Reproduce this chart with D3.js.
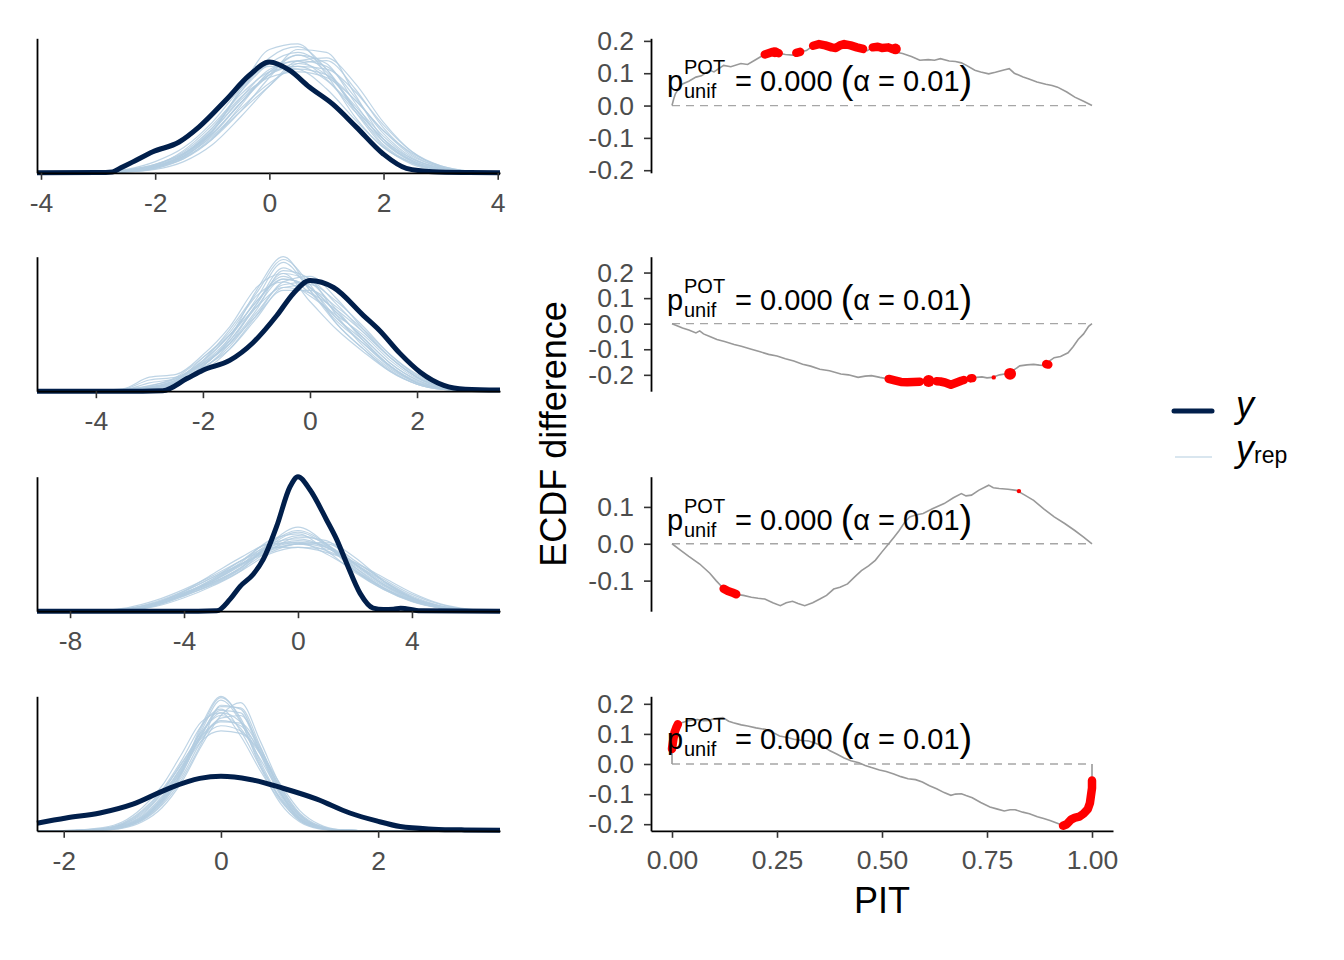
<!DOCTYPE html>
<html>
<head>
<meta charset="utf-8">
<script src="https://cdn.jsdelivr.net/npm/d3@7"></script>
<style>
  body { margin: 0; background: #fff; }
  text { font-family: "Liberation Sans", Arial, sans-serif; }
</style>
</head>
<body>
<svg id="chart" width="1344" height="960"></svg>
<script>
// ---- density overlay data (x grid + density values) ----
var yX1 = [-4.07, -3, -2.75, -2.6, -2.39, -2.04, -1.58, -1.23, -0.76, -0.35, 0, 0.35, 0.7, 1.11, 1.52, 1.99, 2.4, 2.86, 3.5, 4.04];
var yD1 = [0, 0.001, 0.003, 0.018, 0.039, 0.075, 0.11, 0.164, 0.26, 0.348, 0.395, 0.366, 0.306, 0.245, 0.164, 0.068, 0.016, 0.004, 0.001, 0];
var repX1 = [-4.07, -3, -2.5, -2, -1.5, -1, -0.5, 0, 0.5, 1, 1.5, 2, 2.5, 3, 3.5, 4.04];
var rep1 = [
  [0, 0.001, 0.006, 0.022, 0.066, 0.15, 0.267, 0.369, 0.398, 0.334, 0.218, 0.111, 0.044, 0.014, 0.003, 0],
  [0, 0.001, 0.004, 0.018, 0.06, 0.15, 0.29, 0.41, 0.45, 0.37, 0.22, 0.095, 0.03, 0.008, 0.002, 0],
  [0, 0.002, 0.008, 0.025, 0.06, 0.13, 0.23, 0.32, 0.37, 0.35, 0.26, 0.15, 0.07, 0.025, 0.006, 0],
  [0, 0.001, 0.01, 0.03, 0.07, 0.14, 0.25, 0.35, 0.42, 0.36, 0.23, 0.12, 0.05, 0.018, 0.004, 0],
  [0, 0.002, 0.007, 0.02, 0.05, 0.12, 0.24, 0.36, 0.4, 0.38, 0.27, 0.14, 0.055, 0.016, 0.004, 0],
  [0, 0.001, 0.005, 0.026, 0.08, 0.17, 0.28, 0.36, 0.38, 0.33, 0.23, 0.12, 0.045, 0.012, 0.002, 0],
  [0, 0, 0.003, 0.015, 0.055, 0.145, 0.3, 0.44, 0.46, 0.35, 0.2, 0.09, 0.035, 0.01, 0.002, 0],
  [0, 0.002, 0.01, 0.03, 0.075, 0.16, 0.27, 0.34, 0.36, 0.34, 0.26, 0.15, 0.06, 0.02, 0.005, 0],
  [0, 0.001, 0.006, 0.02, 0.058, 0.135, 0.25, 0.36, 0.42, 0.39, 0.25, 0.11, 0.04, 0.01, 0.002, 0],
  [0, 0.001, 0.004, 0.016, 0.05, 0.125, 0.22, 0.31, 0.39, 0.4, 0.3, 0.16, 0.065, 0.02, 0.004, 0],
  [0, 0.002, 0.009, 0.028, 0.07, 0.15, 0.26, 0.35, 0.39, 0.35, 0.24, 0.13, 0.05, 0.015, 0.003, 0],
  [0, 0.001, 0.005, 0.02, 0.065, 0.16, 0.29, 0.39, 0.43, 0.37, 0.23, 0.1, 0.035, 0.01, 0.002, 0],
  [0, 0.001, 0.003, 0.012, 0.04, 0.1, 0.2, 0.31, 0.4, 0.41, 0.32, 0.18, 0.075, 0.022, 0.005, 0],
  [0, 0.002, 0.012, 0.04, 0.09, 0.18, 0.3, 0.38, 0.37, 0.3, 0.19, 0.09, 0.035, 0.01, 0.002, 0],
  [0, 0.001, 0.005, 0.02, 0.055, 0.12, 0.22, 0.34, 0.44, 0.43, 0.28, 0.12, 0.04, 0.01, 0.002, 0],
  [0, 0.001, 0.006, 0.024, 0.065, 0.14, 0.25, 0.35, 0.38, 0.37, 0.29, 0.17, 0.075, 0.025, 0.006, 0]
];

var yX2 = [-5.1, -3.5, -2.75, -2.3, -2.0, -1.5, -1.06, -0.62, -0.31, 0, 0.44, 1.0, 1.3, 1.68, 2.06, 2.5, 2.9, 3.55];
var yD2 = [0, 0, 0.002, 0.045, 0.075, 0.11, 0.174, 0.27, 0.349, 0.395, 0.37, 0.27, 0.217, 0.135, 0.068, 0.021, 0.007, 0.004];
var repX2 = [-5.1, -4, -3.5, -3, -2.5, -2, -1.5, -1, -0.5, 0, 0.5, 1, 1.5, 2, 2.5, 3, 3.55];
var rep2 = [
  [0, 0, 0.003, 0.01, 0.03, 0.09, 0.18, 0.3, 0.4, 0.37, 0.28, 0.19, 0.1, 0.04, 0.01, 0.002, 0],
  [0, 0.001, 0.004, 0.015, 0.04, 0.1, 0.19, 0.33, 0.46, 0.36, 0.25, 0.17, 0.09, 0.03, 0.008, 0.002, 0],
  [0, 0, 0.002, 0.008, 0.025, 0.08, 0.16, 0.28, 0.38, 0.39, 0.31, 0.21, 0.12, 0.05, 0.015, 0.003, 0],
  [0, 0.001, 0.006, 0.04, 0.05, 0.11, 0.2, 0.32, 0.41, 0.35, 0.26, 0.18, 0.09, 0.035, 0.01, 0.002, 0],
  [0, 0, 0.003, 0.012, 0.035, 0.095, 0.17, 0.29, 0.43, 0.4, 0.27, 0.16, 0.08, 0.03, 0.008, 0.001, 0],
  [0, 0.001, 0.004, 0.013, 0.038, 0.12, 0.21, 0.34, 0.39, 0.34, 0.27, 0.2, 0.11, 0.045, 0.012, 0.002, 0],
  [0, 0, 0.002, 0.01, 0.03, 0.085, 0.15, 0.26, 0.37, 0.38, 0.32, 0.23, 0.13, 0.06, 0.018, 0.004, 0],
  [0, 0.001, 0.005, 0.02, 0.045, 0.11, 0.22, 0.35, 0.47, 0.38, 0.24, 0.15, 0.075, 0.025, 0.006, 0.001, 0],
  [0, 0, 0.003, 0.012, 0.032, 0.09, 0.18, 0.31, 0.42, 0.39, 0.29, 0.18, 0.09, 0.03, 0.007, 0.001, 0],
  [0, 0.001, 0.004, 0.03, 0.045, 0.1, 0.17, 0.27, 0.36, 0.36, 0.3, 0.22, 0.13, 0.055, 0.016, 0.003, 0],
  [0, 0, 0.002, 0.01, 0.028, 0.08, 0.17, 0.31, 0.44, 0.37, 0.26, 0.17, 0.085, 0.03, 0.008, 0.001, 0],
  [0, 0.001, 0.004, 0.014, 0.04, 0.105, 0.2, 0.32, 0.4, 0.37, 0.28, 0.19, 0.1, 0.04, 0.01, 0.002, 0],
  [0, 0.002, 0.008, 0.05, 0.06, 0.13, 0.23, 0.37, 0.42, 0.32, 0.22, 0.14, 0.07, 0.025, 0.006, 0.001, 0],
  [0, 0, 0.002, 0.007, 0.022, 0.07, 0.15, 0.27, 0.39, 0.41, 0.33, 0.22, 0.12, 0.05, 0.014, 0.003, 0],
  [0, 0.001, 0.005, 0.018, 0.05, 0.12, 0.2, 0.3, 0.37, 0.35, 0.29, 0.21, 0.12, 0.05, 0.013, 0.002, 0],
  [0, 0, 0.003, 0.011, 0.033, 0.09, 0.19, 0.36, 0.48, 0.36, 0.24, 0.15, 0.07, 0.025, 0.006, 0.001, 0]
];

var yX3 = [-9.16, -3.5, -2.85, -2.39, -2.03, -1.57, -1.22, -0.75, -0.28, 0, 0.42, 1.0, 1.36, 1.71, 2.18, 2.64, 3.0, 3.35, 3.6, 4.3, 7.09];
var yD3 = [0, 0, 0.001, 0.035, 0.074, 0.11, 0.154, 0.252, 0.37, 0.40, 0.361, 0.272, 0.213, 0.142, 0.053, 0.009, 0.005, 0.006, 0.009, 0.001, 0];
var repX3 = [-9.16, -7, -6, -5, -4, -3, -2, -1, 0, 1, 2, 3, 4, 5, 6, 7.09];
var rep3 = [
  [0, 0.001, 0.004, 0.02, 0.05, 0.09, 0.14, 0.19, 0.21, 0.19, 0.13, 0.075, 0.035, 0.012, 0.003, 0],
  [0, 0.001, 0.006, 0.025, 0.055, 0.085, 0.13, 0.2, 0.24, 0.2, 0.125, 0.07, 0.03, 0.01, 0.002, 0],
  [0, 0.002, 0.008, 0.028, 0.06, 0.1, 0.15, 0.2, 0.2, 0.18, 0.14, 0.085, 0.04, 0.015, 0.004, 0],
  [0, 0, 0.003, 0.016, 0.045, 0.08, 0.125, 0.18, 0.22, 0.21, 0.14, 0.08, 0.04, 0.014, 0.003, 0],
  [0, 0.001, 0.005, 0.022, 0.048, 0.078, 0.12, 0.17, 0.19, 0.185, 0.145, 0.095, 0.05, 0.02, 0.005, 0],
  [0, 0.001, 0.004, 0.018, 0.052, 0.095, 0.145, 0.21, 0.23, 0.18, 0.115, 0.065, 0.03, 0.01, 0.002, 0],
  [0, 0.002, 0.007, 0.025, 0.055, 0.09, 0.135, 0.185, 0.205, 0.195, 0.14, 0.08, 0.038, 0.014, 0.003, 0],
  [0, 0.001, 0.004, 0.02, 0.05, 0.085, 0.13, 0.19, 0.225, 0.2, 0.13, 0.07, 0.033, 0.011, 0.002, 0],
  [0, 0.001, 0.005, 0.024, 0.058, 0.1, 0.14, 0.18, 0.2, 0.19, 0.14, 0.09, 0.045, 0.016, 0.004, 0],
  [0, 0, 0.003, 0.017, 0.046, 0.082, 0.128, 0.195, 0.235, 0.195, 0.12, 0.068, 0.032, 0.01, 0.002, 0],
  [0, 0.001, 0.006, 0.023, 0.05, 0.088, 0.138, 0.2, 0.215, 0.19, 0.135, 0.078, 0.036, 0.013, 0.003, 0],
  [0, 0.001, 0.004, 0.019, 0.048, 0.092, 0.14, 0.175, 0.2, 0.2, 0.15, 0.09, 0.042, 0.015, 0.003, 0],
  [0, 0.002, 0.01, 0.032, 0.065, 0.105, 0.15, 0.19, 0.19, 0.175, 0.145, 0.1, 0.055, 0.022, 0.006, 0],
  [0, 0, 0.002, 0.014, 0.04, 0.075, 0.12, 0.2, 0.25, 0.2, 0.12, 0.065, 0.028, 0.009, 0.002, 0],
  [0, 0.001, 0.005, 0.021, 0.053, 0.095, 0.15, 0.185, 0.2, 0.205, 0.16, 0.09, 0.04, 0.013, 0.003, 0],
  [0, 0.001, 0.006, 0.024, 0.06, 0.11, 0.16, 0.2, 0.205, 0.17, 0.12, 0.07, 0.033, 0.012, 0.003, 0]
];

var yX4 = [-2.34, -1.97, -1.54, -1.12, -0.69, -0.27, 0, 0.37, 0.79, 1.22, 1.64, 1.98, 2.28, 2.7, 3.1, 3.55];
var yD4 = [0.059, 0.1, 0.139, 0.208, 0.324, 0.409, 0.425, 0.401, 0.332, 0.247, 0.139, 0.077, 0.033, 0.013, 0.007, 0.005];
var repX4 = [-2.34, -2, -1.5, -1.25, -1, -0.75, -0.5, -0.25, 0, 0.25, 0.5, 0.75, 1, 1.25, 1.5, 2, 3.55];
var rep4 = [
  [0, 0, 0.01, 0.04, 0.1, 0.25, 0.48, 0.75, 0.92, 0.85, 0.6, 0.3, 0.1, 0.025, 0.005, 0, 0],
  [0, 0.001, 0.015, 0.05, 0.13, 0.29, 0.5, 0.78, 1.02, 0.85, 0.52, 0.25, 0.08, 0.02, 0.004, 0, 0],
  [0, 0, 0.008, 0.03, 0.09, 0.22, 0.42, 0.7, 0.88, 0.9, 0.65, 0.34, 0.12, 0.03, 0.006, 0, 0],
  [0, 0.002, 0.02, 0.06, 0.16, 0.32, 0.55, 0.82, 0.95, 0.78, 0.5, 0.26, 0.1, 0.03, 0.006, 0, 0],
  [0, 0, 0.006, 0.025, 0.08, 0.2, 0.4, 0.68, 0.98, 0.95, 0.62, 0.3, 0.09, 0.02, 0.003, 0, 0],
  [0, 0.001, 0.012, 0.045, 0.12, 0.27, 0.5, 0.72, 0.82, 0.78, 0.6, 0.35, 0.14, 0.04, 0.008, 0, 0],
  [0, 0, 0.01, 0.035, 0.1, 0.24, 0.46, 0.8, 1.04, 0.88, 0.54, 0.26, 0.08, 0.018, 0.003, 0, 0],
  [0, 0.001, 0.014, 0.05, 0.14, 0.3, 0.53, 0.74, 0.86, 0.82, 0.62, 0.32, 0.11, 0.028, 0.005, 0, 0],
  [0, 0, 0.007, 0.028, 0.085, 0.21, 0.44, 0.76, 0.94, 0.92, 0.6, 0.28, 0.09, 0.022, 0.004, 0, 0],
  [0, 0.001, 0.018, 0.055, 0.15, 0.31, 0.52, 0.77, 0.9, 0.8, 0.56, 0.3, 0.12, 0.035, 0.007, 0, 0],
  [0, 0, 0.009, 0.032, 0.095, 0.23, 0.45, 0.74, 0.97, 0.96, 0.66, 0.31, 0.1, 0.024, 0.004, 0, 0],
  [0, 0.001, 0.012, 0.042, 0.11, 0.26, 0.49, 0.73, 0.85, 0.84, 0.64, 0.33, 0.13, 0.034, 0.007, 0, 0],
  [0, 0.002, 0.025, 0.07, 0.18, 0.35, 0.6, 0.85, 0.92, 0.74, 0.47, 0.24, 0.09, 0.025, 0.005, 0, 0],
  [0, 0, 0.005, 0.02, 0.07, 0.18, 0.38, 0.66, 0.9, 1.0, 0.7, 0.36, 0.13, 0.035, 0.006, 0, 0],
  [0, 0.001, 0.01, 0.04, 0.11, 0.25, 0.47, 0.7, 0.78, 0.76, 0.62, 0.37, 0.16, 0.05, 0.01, 0, 0],
  [0, 0, 0.008, 0.03, 0.09, 0.23, 0.46, 0.82, 1.05, 0.86, 0.5, 0.22, 0.07, 0.015, 0.002, 0, 0]
];

var densTicks = [[-4, -2, 0, 2, 4], [-4, -2, 0, 2], [-8, -4, 0, 4], [-2, 0, 2]];
var densDomains = [[-4.07, 4.04], [-5.1, 3.55], [-9.16, 7.09], [-2.34, 3.55]];
var densTop = [0.48, 0.48, 0.40, 1.05];

// ---- PIT ECDF difference data: [PIT, ECDF difference] ----
var ecdf1 = [[0,0],[0.004,0.02],[0.008,0.036],[0.015,0.05],[0.025,0.067],[0.04,0.075],[0.057,0.088],[0.07,0.092],[0.09,0.109],[0.1,0.104],[0.123,0.124],[0.14,0.12],[0.164,0.13],[0.18,0.127],[0.197,0.14],[0.21,0.15],[0.221,0.158],[0.24,0.166],[0.254,0.162],[0.27,0.158],[0.287,0.156],[0.296,0.163],[0.305,0.166],[0.32,0.17],[0.336,0.185],[0.35,0.19],[0.365,0.186],[0.38,0.18],[0.39,0.178],[0.40,0.186],[0.41,0.19],[0.425,0.186],[0.44,0.18],[0.455,0.175],[0.465,0.17],[0.478,0.18],[0.49,0.182],[0.50,0.178],[0.515,0.18],[0.525,0.175],[0.54,0.163],[0.549,0.161],[0.57,0.152],[0.59,0.14],[0.61,0.142],[0.625,0.14],[0.639,0.145],[0.66,0.138],[0.675,0.136],[0.689,0.132],[0.70,0.125],[0.721,0.109],[0.735,0.104],[0.754,0.098],[0.77,0.103],[0.79,0.11],[0.803,0.114],[0.815,0.1],[0.836,0.088],[0.85,0.082],[0.869,0.073],[0.89,0.066],[0.905,0.062],[0.918,0.057],[0.94,0.042],[0.959,0.026],[0.98,0.013],[1,0]];
var ecdf2 = [[0,0],[0.012,-0.008],[0.025,-0.017],[0.04,-0.025],[0.057,-0.036],[0.066,-0.028],[0.075,-0.04],[0.09,-0.05],[0.107,-0.062],[0.125,-0.07],[0.148,-0.081],[0.165,-0.088],[0.189,-0.1],[0.21,-0.11],[0.23,-0.12],[0.25,-0.126],[0.27,-0.137],[0.29,-0.146],[0.311,-0.159],[0.33,-0.166],[0.352,-0.178],[0.375,-0.184],[0.402,-0.197],[0.42,-0.2],[0.443,-0.21],[0.46,-0.205],[0.475,-0.203],[0.495,-0.21],[0.516,-0.216],[0.53,-0.222],[0.545,-0.228],[0.56,-0.229],[0.575,-0.228],[0.59,-0.227],[0.607,-0.223],[0.62,-0.225],[0.639,-0.226],[0.65,-0.23],[0.664,-0.239],[0.675,-0.232],[0.689,-0.223],[0.70,-0.218],[0.713,-0.214],[0.725,-0.21],[0.738,-0.208],[0.75,-0.212],[0.762,-0.21],[0.78,-0.2],[0.803,-0.194],[0.815,-0.18],[0.828,-0.165],[0.845,-0.161],[0.861,-0.159],[0.875,-0.162],[0.885,-0.163],[0.895,-0.15],[0.91,-0.133],[0.925,-0.128],[0.943,-0.114],[0.955,-0.09],[0.967,-0.062],[0.98,-0.04],[0.992,-0.01],[1,0]];
var ecdf3 = [[0,0],[0.02,-0.017],[0.04,-0.034],[0.066,-0.055],[0.09,-0.08],[0.105,-0.1],[0.123,-0.122],[0.133,-0.128],[0.143,-0.132],[0.156,-0.138],[0.17,-0.14],[0.189,-0.145],[0.205,-0.148],[0.221,-0.15],[0.24,-0.16],[0.258,-0.168],[0.272,-0.16],[0.287,-0.156],[0.3,-0.162],[0.316,-0.168],[0.335,-0.16],[0.352,-0.15],[0.368,-0.14],[0.385,-0.123],[0.40,-0.118],[0.418,-0.109],[0.435,-0.09],[0.451,-0.073],[0.468,-0.06],[0.484,-0.045],[0.50,-0.022],[0.516,0],[0.53,0.02],[0.541,0.036],[0.555,0.06],[0.566,0.073],[0.58,0.078],[0.598,0.082],[0.62,0.095],[0.648,0.109],[0.67,0.125],[0.689,0.136],[0.70,0.13],[0.713,0.132],[0.73,0.145],[0.754,0.159],[0.765,0.152],[0.779,0.15],[0.80,0.148],[0.82,0.145],[0.84,0.132],[0.861,0.118],[0.885,0.095],[0.91,0.073],[0.935,0.055],[0.959,0.036],[0.98,0.018],[1,0]];
var ecdf4 = [[0,0],[0,0.05],[0.003,0.08],[0.006,0.105],[0.01,0.12],[0.014,0.132],[0.025,0.138],[0.036,0.143],[0.05,0.146],[0.061,0.148],[0.075,0.144],[0.087,0.145],[0.1,0.15],[0.121,0.154],[0.135,0.142],[0.146,0.137],[0.165,0.13],[0.18,0.126],[0.2,0.12],[0.222,0.115],[0.24,0.105],[0.256,0.093],[0.275,0.088],[0.29,0.082],[0.31,0.078],[0.324,0.077],[0.34,0.07],[0.358,0.06],[0.375,0.045],[0.392,0.033],[0.41,0.02],[0.426,0.011],[0.445,0.004],[0.46,-0.005],[0.475,-0.012],[0.494,-0.02],[0.51,-0.025],[0.528,-0.033],[0.545,-0.042],[0.562,-0.049],[0.58,-0.052],[0.596,-0.06],[0.613,-0.072],[0.63,-0.082],[0.648,-0.095],[0.664,-0.104],[0.675,-0.1],[0.689,-0.099],[0.70,-0.105],[0.715,-0.112],[0.735,-0.128],[0.757,-0.143],[0.775,-0.15],[0.791,-0.156],[0.805,-0.152],[0.817,-0.152],[0.835,-0.16],[0.851,-0.165],[0.87,-0.175],[0.885,-0.181],[0.9,-0.188],[0.919,-0.198],[0.931,-0.205],[0.94,-0.2],[0.95,-0.185],[0.96,-0.178],[0.97,-0.175],[0.98,-0.165],[0.99,-0.15],[0.995,-0.13],[0.997,-0.11],[1,-0.08],[1,-0.055],[1,0]];

// runs of PIT values outside the simultaneous band (red)
var red1 = [
  [[0.221,0.158],[0.24,0.166],[0.254,0.162]],
  [[0.296,0.163],[0.305,0.166]],
  [[0.336,0.185],[0.35,0.19],[0.365,0.186],[0.38,0.18],[0.39,0.178],[0.40,0.186],[0.41,0.19],[0.425,0.186],[0.44,0.18],[0.455,0.175]],
  [[0.478,0.18],[0.49,0.182],[0.50,0.178],[0.515,0.18],[0.525,0.175]]
];
var red2 = [
  [[0.516,-0.216],[0.53,-0.222],[0.545,-0.228],[0.56,-0.229],[0.575,-0.228],[0.59,-0.227]],
  [[0.63,-0.225],[0.639,-0.226],[0.65,-0.23],[0.664,-0.239],[0.675,-0.232],[0.689,-0.223],[0.695,-0.22]],
  [[0.711,-0.214],[0.715,-0.213]],
  [[0.891,-0.158],[0.896,-0.16]]
];
var red3 = [
  [[0.123,-0.122],[0.133,-0.128],[0.143,-0.132],[0.153,-0.137]]
];
var red4 = [
  [[0,0.05],[0.003,0.08],[0.006,0.105],[0.01,0.12],[0.014,0.132]],
  [[0.931,-0.205],[0.94,-0.2],[0.95,-0.185],[0.96,-0.178],[0.97,-0.175],[0.98,-0.165],[0.99,-0.15],[0.995,-0.13],[0.997,-0.11],[1,-0.08],[1,-0.055]]
];
// single flagged points: [PIT, difference, weight]
var dots1 = [[0.245,0.165,1.6],[0.532,0.175,1.8]];
var dots2 = [[0.611,-0.224,2.2],[0.805,-0.196,2.2],[0.766,-0.21,0.3]];
var dots3 = [[0.826,0.143,0.3]];
var dots4 = [];

var ecdfTicks = [[0.2, 0.1, 0, -0.1, -0.2], [0.2, 0.1, 0, -0.1, -0.2], [0.1, 0, -0.1], [0.2, 0.1, 0, -0.1, -0.2]];
var ecdfDomains = [[-0.208, 0.208], [-0.264, 0.262], [-0.183, 0.182], [-0.222, 0.225]];
var pitTicks = [0, 0.25, 0.5, 0.75, 1];

// ---- layout ----
var svg = d3.select("#chart");
var rowTop = [38.3, 256.7, 476.7, 696.3], rowH = 134.5;
var L0 = 37, L1 = 500, R0 = 651, R1 = 1113;
var dark = "#011f4b", light = "#b3cde0";

function styleAxis(g) {
  g.attr("font-family", "Liberation Sans, Arial, sans-serif").attr("font-size", 26.5);
  g.select(".domain").attr("stroke", "#000").attr("stroke-width", 1.8);
  g.selectAll(".tick line").attr("stroke", "#333").attr("stroke-width", 1.6);
  g.selectAll(".tick text").attr("fill", "#4d4d4d");
}

var densPanels = [
  { yx: yX1, yd: yD1, rx: repX1, reps: rep1 },
  { yx: yX2, yd: yD2, rx: repX2, reps: rep2 },
  { yx: yX3, yd: yD3, rx: repX3, reps: rep3 },
  { yx: yX4, yd: yD4, rx: repX4, reps: rep4 }
];

densPanels.forEach(function (p, i) {
  var top = rowTop[i], bot = top + rowH;
  var x = d3.scaleLinear().domain(densDomains[i]).range([L0, L1]);
  var y = d3.scaleLinear().domain([0, densTop[i]]).range([bot, top]);
  var line = d3.line().x(function (d) { return x(d[0]); }).y(function (d) { return y(d[1]); }).curve(d3.curveMonotoneX);
  var g = svg.append("g");

  g.selectAll("path.rep").data(p.reps).enter().append("path")
    .attr("class", "rep")
    .attr("d", function (r) { return line(d3.zip(p.rx, r)); })
    .attr("fill", "none").attr("stroke", light).attr("stroke-width", 1.2).attr("stroke-opacity", 0.85);

  g.append("path").attr("d", line(d3.zip(p.yx, p.yd)))
    .attr("fill", "none").attr("stroke", dark).attr("stroke-width", 5).attr("stroke-linejoin", "round");

  g.append("g").attr("transform", "translate(0," + bot + ")")
    .call(d3.axisBottom(x).tickValues(densTicks[i]).tickSize(7).tickSizeOuter(0).tickPadding(13)
      .tickFormat(function (d) { return String(d); }))
    .call(styleAxis);
  g.append("g").attr("transform", "translate(" + L0 + ",0)")
    .call(d3.axisLeft(y).tickValues([]).tickSizeOuter(0))
    .call(styleAxis);
});

var ecdfs = [ecdf1, ecdf2, ecdf3, ecdf4];
var reds = [red1, red2, red3, red4];
var dots = [dots1, dots2, dots3, dots4];
var px = d3.scaleLinear().domain([-0.05, 1.05]).range([R0, R1]);
var rScale = d3.scaleSqrt().domain([0, 1]).range([0, 4]);

ecdfs.forEach(function (data, i) {
  var top = rowTop[i], bot = top + rowH;
  var y = d3.scaleLinear().domain(ecdfDomains[i]).range([bot, top]);
  var line = d3.line().x(function (d) { return px(d[0]); }).y(function (d) { return y(d[1]); });
  var g = svg.append("g");

  g.append("line")
    .attr("x1", px(0)).attr("x2", px(1)).attr("y1", y(0)).attr("y2", y(0))
    .attr("stroke", "#a6a6a6").attr("stroke-width", 1.3).attr("stroke-dasharray", "8,6");

  g.append("path").attr("d", line(data))
    .attr("fill", "none").attr("stroke", "#999").attr("stroke-width", 1.6);

  g.selectAll("path.red").data(reds[i]).enter().append("path")
    .attr("class", "red").attr("d", line)
    .attr("fill", "none").attr("stroke", "#ff0000").attr("stroke-width", 8.5)
    .attr("stroke-linecap", "round").attr("stroke-linejoin", "round");

  g.selectAll("circle").data(dots[i]).enter().append("circle")
    .attr("cx", function (d) { return px(d[0]); })
    .attr("cy", function (d) { return y(d[1]); })
    .attr("r", function (d) { return rScale(d[2]); })
    .attr("fill", "#ff0000");

  g.append("g").attr("transform", "translate(" + R0 + ",0)")
    .call(d3.axisLeft(y).tickValues(ecdfTicks[i]).tickSize(7).tickSizeOuter(0).tickPadding(10)
      .tickFormat(function (d) { return d.toFixed(1); }))
    .call(styleAxis);

  if (i === 3) {
    g.append("g").attr("transform", "translate(0," + bot + ")")
      .call(d3.axisBottom(px).tickValues(pitTicks).tickSize(7).tickSizeOuter(0).tickPadding(12)
        .tickFormat(function (d) { return d.toFixed(2); }))
      .call(styleAxis);
  }

  // p-value annotation
  var a = svg.append("g").attr("fill", "#000");
  a.append("text").attr("x", 667).attr("y", top + 53).attr("font-size", 29).text("p");
  a.append("text").attr("x", 684).attr("y", top + 36).attr("font-size", 20).text("POT");
  a.append("text").attr("x", 684).attr("y", top + 60).attr("font-size", 20).text("unif");
  var t = a.append("text").attr("x", 735).attr("y", top + 53).attr("font-size", 29);
  t.append("tspan").text("= 0.000 ");
  t.append("tspan").attr("font-size", 38).attr("dy", 2).text("(");
  t.append("tspan").attr("dy", -2).text("α = 0.01");
  t.append("tspan").attr("font-size", 38).attr("dy", 2).text(")");
});

// axis titles
svg.append("text").attr("x", (R0 + R1) / 2).attr("y", 913)
  .attr("text-anchor", "middle").attr("font-size", 36).attr("fill", "#000").text("PIT");
svg.append("text").attr("transform", "translate(566,434) rotate(-90)")
  .attr("text-anchor", "middle").attr("font-size", 36).attr("fill", "#000").text("ECDF difference");

// legend
var leg = svg.append("g");
leg.append("line").attr("x1", 1174).attr("x2", 1212).attr("y1", 411).attr("y2", 411)
  .attr("stroke", dark).attr("stroke-width", 5).attr("stroke-linecap", "round");
leg.append("line").attr("x1", 1175).attr("x2", 1212).attr("y1", 457).attr("y2", 457)
  .attr("stroke", light).attr("stroke-width", 1.2);
leg.append("text").attr("x", 1236).attr("y", 417).attr("font-size", 36)
  .attr("font-style", "italic").text("y");
var lt = leg.append("text").attr("x", 1236).attr("y", 461).attr("font-size", 36);
lt.append("tspan").attr("font-style", "italic").text("y");
lt.append("tspan").attr("font-size", 23).attr("dy", 2).text("rep");
</script>
</body>
</html>
